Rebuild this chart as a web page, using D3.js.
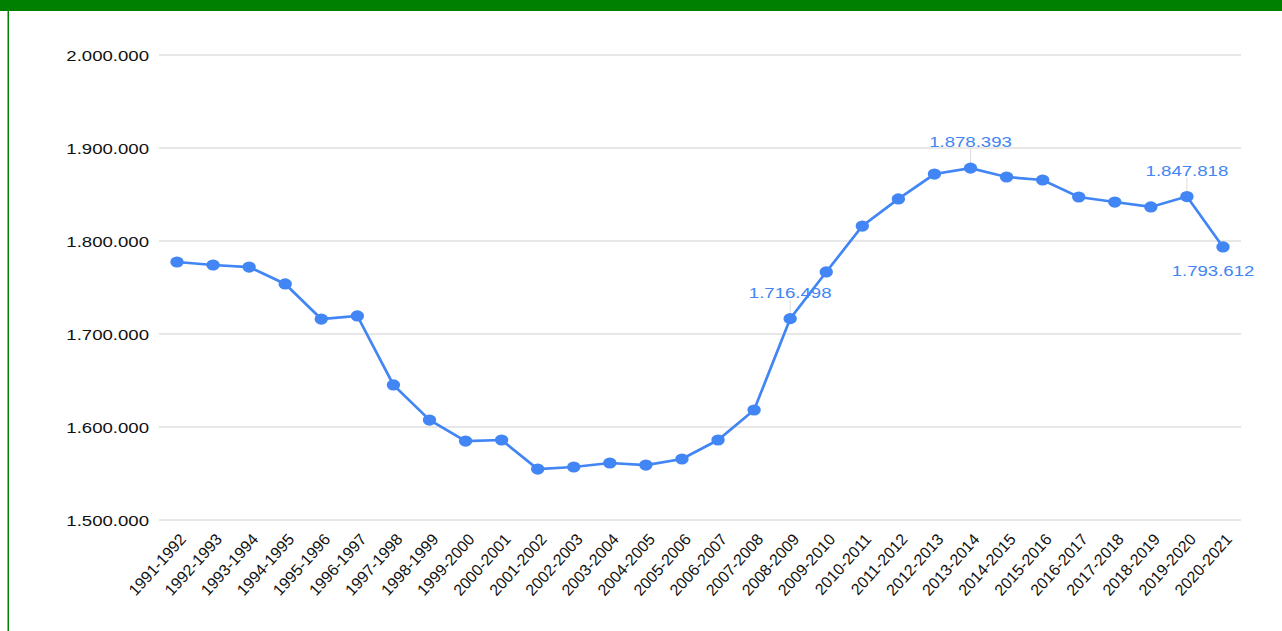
<!DOCTYPE html>
<html>
<head>
<meta charset="utf-8">
<script src="https://cdn.jsdelivr.net/npm/d3@7"></script>
<style>
  body { margin: 0; background: #fff; }
  svg { display: block; font-family: Arial, "Liberation Sans", sans-serif; }
</style>
</head>
<body>
<div id="chart"></div>
<script>
const width = 1282;
const height = 631;

// Data.
const years = [
  "1991-1992", "1992-1993", "1993-1994", "1994-1995", "1995-1996", "1996-1997",
  "1997-1998", "1998-1999", "1999-2000", "2000-2001", "2001-2002", "2002-2003",
  "2003-2004", "2004-2005", "2005-2006", "2006-2007", "2007-2008", "2008-2009",
  "2009-2010", "2010-2011", "2011-2012", "2012-2013", "2013-2014", "2014-2015",
  "2015-2016", "2016-2017", "2017-2018", "2018-2019", "2019-2020", "2020-2021"
];
const students = [
  1777400, 1774200, 1772000, 1753800, 1716100, 1719400,
  1645200, 1607500, 1584900, 1586000, 1554800, 1557000,
  1561300, 1559100, 1565600, 1586000, 1618300, 1716498,
  1766700, 1816100, 1845200, 1872000, 1878393, 1868800,
  1865600, 1847300, 1841900, 1836600, 1847818, 1793612
];
const yTicks = [1500000, 1600000, 1700000, 1800000, 1900000, 2000000];
// labelled points: year and whether the label sits above or below
const labelled = [
  { year: "2008-2009", pos: "above" },
  { year: "2013-2014", pos: "above" },
  { year: "2019-2020", pos: "above" },
  { year: "2020-2021", pos: "below" }
];

const fmt = v => d3.format(",")(v).replace(/,/g, ".");
const blue = "#4285f4";
const stretch = 1.2; // the original text looks a bit wide

const svg = d3.select("#chart")
  .append("svg")
  .attr("width", width)
  .attr("height", height);

// frame
svg.append("rect").attr("x", 0).attr("y", 0).attr("width", width).attr("height", 11).attr("fill", "#008000");
svg.append("rect").attr("x", 7.5).attr("y", 0).attr("width", 1.5).attr("height", height).attr("fill", "#008000");

const x = d3.scalePoint()
  .domain(years)
  .range([177, 1223]);

const y = d3.scaleLinear()
  .domain([1500000, 2000000])
  .range([520, 55]);

// grid
svg.append("g")
  .selectAll("line")
  .data(yTicks)
  .join("line")
  .attr("x1", 159)
  .attr("x2", 1241)
  .attr("y1", d => y(d))
  .attr("y2", d => y(d))
  .attr("stroke", "#d0d0d0")
  .attr("stroke-width", 1);

// y labels
svg.append("g")
  .selectAll("text")
  .data(yTicks)
  .join("text")
  .attr("transform", d => `translate(149,${y(d)}) scale(${stretch},1)`)
  .attr("dy", "0.36em")
  .attr("text-anchor", "end")
  .attr("font-size", 15.5)
  .attr("fill", "#111")
  .text(fmt);

// x labels
svg.append("g")
  .selectAll("text")
  .data(years)
  .join("text")
  .attr("transform", d => `translate(${x(d) + 10},540) rotate(-48)`)
  .attr("text-anchor", "end")
  .attr("font-size", 16)
  .attr("fill", "#111")
  .text(d => d);

const points = years.map((d, i) => ({ year: d, value: students[i] }));

// line
svg.append("path")
  .datum(points)
  .attr("fill", "none")
  .attr("stroke", blue)
  .attr("stroke-width", 2.7)
  .attr("d", d3.line().x(d => x(d.year)).y(d => y(d.value)));

// leader lines
const lab = labelled.map(l => ({ ...l, value: points.find(p => p.year === l.year).value }));
svg.append("g")
  .selectAll("line")
  .data(lab.filter(d => d.pos === "above"))
  .join("line")
  .attr("x1", d => x(d.year))
  .attr("x2", d => x(d.year))
  .attr("y1", d => y(d.value) - 19)
  .attr("y2", d => y(d.value) - 5)
  .attr("stroke", "#ddd")
  .attr("stroke-width", 1);

// points
svg.append("g")
  .selectAll("ellipse")
  .data(points)
  .join("ellipse")
  .attr("cx", d => x(d.year))
  .attr("cy", d => y(d.value))
  .attr("rx", 6.7)
  .attr("ry", 5.6)
  .attr("fill", blue);

// value labels
svg.append("g")
  .selectAll("text")
  .data(lab)
  .join("text")
  .attr("transform", d => {
    const tx = d.pos === "above" ? x(d.year) : x(d.year) - 10;
    const ty = d.pos === "above" ? y(d.value) - 21 : y(d.value) + 29;
    return `translate(${tx},${ty}) scale(${stretch},1)`;
  })
  .attr("text-anchor", "middle")
  .attr("font-size", 15.5)
  .attr("fill", blue)
  .text(d => fmt(d.value));
</script>
</body>
</html>
